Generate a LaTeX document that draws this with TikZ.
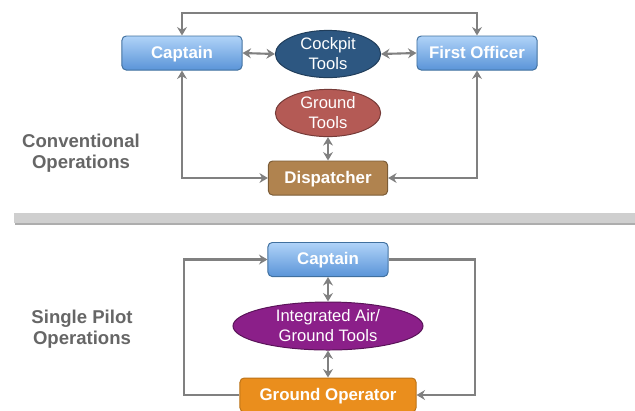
\documentclass[tikz,border=0pt]{standalone}
\usepackage{fontspec}
\setmainfont{Liberation Sans}
\usetikzlibrary{arrows.meta,shapes.geometric}
\definecolor{capTop}{HTML}{B0D3F8}
\definecolor{capBot}{HTML}{5A94D8}
\definecolor{capLine}{HTML}{40709F}
\definecolor{cockpitBlue}{HTML}{2D5781}
\definecolor{groundRed}{HTML}{B45A55}
\definecolor{dispBrown}{HTML}{B0834F}
\definecolor{integPurple}{HTML}{8B1F89}
\definecolor{opOrange}{HTML}{EA8E1D}
\definecolor{linkGray}{HTML}{808080}
\definecolor{labelGray}{HTML}{666666}
\tikzset{
  rolebox/.style={draw,rounded corners=3pt,line width=0.7pt,minimum height=0.85cm,
    text height=0.75em,text depth=0.02em,
    text=white,font=\fontsize{12}{14}\selectfont\bfseries},
  capbox/.style={rolebox,draw=capLine,top color=capTop,bottom color=capBot,minimum width=3cm},
  toolell/.style={ellipse,draw,line width=0.7pt,inner sep=0pt,text=white,align=center,
    font=\fontsize{11.8}{14.2}\selectfont},
  link/.style={draw=linkGray,line width=1.5pt,{Stealth[length=6pt,width=7pt]}-{Stealth[length=6pt,width=7pt]}},
  onelink/.style={draw=linkGray,line width=1.5pt,-{Stealth[length=6pt,width=7pt]}},
  modelabel/.style={text=labelGray,align=center,font=\fontsize{13.2}{15}\selectfont\bfseries}
}
\begin{document}
\begin{tikzpicture}[x=0.025cm,y=-0.025cm]
  \useasboundingbox (0,0) rectangle (635,410);
  % conventional operations
  \node[capbox] (cap1) at (182,53) {Captain};
  \node[capbox] (fo) at (477,53) {First Officer};
  \node[toolell,fill=cockpitBlue,draw=cockpitBlue!70!black,minimum width=2.63cm,minimum height=1.18cm]
    (cockpit) at (328,54) {Cockpit\\Tools};
  \node[toolell,fill=groundRed,draw=groundRed!65!black,minimum width=2.63cm,minimum height=1.18cm]
    (gtools) at (328,113) {Ground\\Tools};
  \node[rolebox,fill=dispBrown,draw=dispBrown!70!black,minimum width=2.98cm] (disp) at (328,178) {Dispatcher};
  \node[modelabel] (conv) at (81,153) {Conventional\\Operations};
  \coordinate (ctop) at (0,13);
  \draw[link] (cap1.north) -- (cap1.north |- ctop) -| (fo.north);
  \draw[link] (cap1.east) -- (cockpit.west);
  \draw[link] (cockpit.east) -- (fo.west);
  \draw[link] (cap1.south) |- (disp.west);
  \draw[link] (fo.south) |- (disp.east);
  \draw[link] (gtools.south) -- (disp.north);
  % separator
  \fill[black!32] (15,215) rectangle (640,225);
  \fill[black!19] (14,213) rectangle (640,222.5);
  % single pilot operations
  \node[capbox] (cap2) at (328,259.5) {Captain};
  \node[toolell,fill=integPurple,draw=integPurple!65!black,minimum width=4.75cm,minimum height=1.2cm]
    (integ) at (328,326) {Integrated Air/\\Ground Tools};
  \node[rolebox,fill=opOrange,draw=opOrange!80!black,minimum width=4.4cm] (gop) at (328,395) {Ground Operator};
  \node[modelabel] (single) at (82,329) {Single Pilot\\Operations};
  \coordinate (lx) at (184,0);
  \coordinate (rx) at (475,0);
  \draw[onelink] (gop.west) -- (gop.west -| lx) |- (cap2.west);
  \draw[onelink] (cap2.east) -- (cap2.east -| rx) |- (gop.east);
  \draw[link] (cap2.south) -- (integ.north);
  \draw[link] (integ.south) -- (gop.north);
\end{tikzpicture}
\end{document}
